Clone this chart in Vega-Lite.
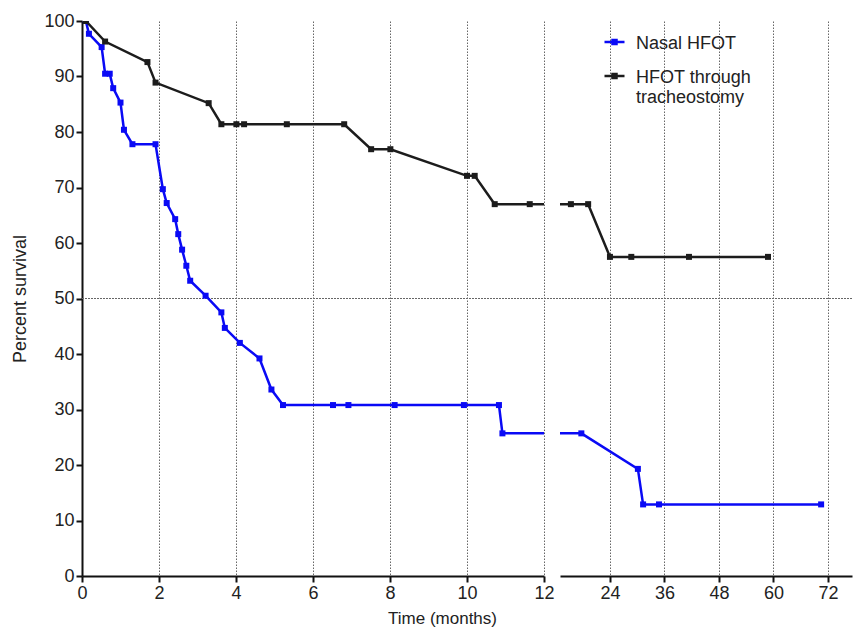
{
  "$schema": "https://vega.github.io/schema/vega-lite/v6.json",
  "padding": {"left": 11, "top": 12, "right": 0, "bottom": 4},
  "spacing": 16,
  "bounds": "flush",
  "config": {
    "view": {"stroke": null},
    "font": "Liberation Sans",
    "axis": {
      "domainColor": "#111", "domainWidth": 2, "tickColor": "#111", "tickWidth": 2, "tickSize": 6,
      "labelFontSize": 18, "labelColor": "#222", "labelPadding": 2, "labelFlush": false,
      "titleFontWeight": "normal", "titleColor": "#222",
      "gridDash": [1.5, 1.5], "gridColor": "#666", "gridWidth": 1
    }
  },
  "data": {"values": [
    {"group": "Nasal HFOT", "t": 0.1, "s": 100},
    {"group": "Nasal HFOT", "t": 0.18, "s": 97.7},
    {"group": "Nasal HFOT", "t": 0.51, "s": 95.3},
    {"group": "Nasal HFOT", "t": 0.6, "s": 90.5},
    {"group": "Nasal HFOT", "t": 0.72, "s": 90.5},
    {"group": "Nasal HFOT", "t": 0.81, "s": 87.9},
    {"group": "Nasal HFOT", "t": 1.0, "s": 85.3},
    {"group": "Nasal HFOT", "t": 1.09, "s": 80.4},
    {"group": "Nasal HFOT", "t": 1.31, "s": 77.8},
    {"group": "Nasal HFOT", "t": 1.91, "s": 77.8},
    {"group": "Nasal HFOT", "t": 2.1, "s": 69.7},
    {"group": "Nasal HFOT", "t": 2.2, "s": 67.2},
    {"group": "Nasal HFOT", "t": 2.42, "s": 64.3},
    {"group": "Nasal HFOT", "t": 2.5, "s": 61.6},
    {"group": "Nasal HFOT", "t": 2.6, "s": 58.8},
    {"group": "Nasal HFOT", "t": 2.71, "s": 55.9},
    {"group": "Nasal HFOT", "t": 2.81, "s": 53.2},
    {"group": "Nasal HFOT", "t": 3.21, "s": 50.5},
    {"group": "Nasal HFOT", "t": 3.62, "s": 47.5},
    {"group": "Nasal HFOT", "t": 3.71, "s": 44.7},
    {"group": "Nasal HFOT", "t": 4.1, "s": 42.0},
    {"group": "Nasal HFOT", "t": 4.61, "s": 39.2},
    {"group": "Nasal HFOT", "t": 4.92, "s": 33.6},
    {"group": "Nasal HFOT", "t": 5.22, "s": 30.8},
    {"group": "Nasal HFOT", "t": 6.52, "s": 30.8},
    {"group": "Nasal HFOT", "t": 6.92, "s": 30.8},
    {"group": "Nasal HFOT", "t": 8.12, "s": 30.8},
    {"group": "Nasal HFOT", "t": 9.92, "s": 30.8},
    {"group": "Nasal HFOT", "t": 10.83, "s": 30.8},
    {"group": "Nasal HFOT", "t": 10.92, "s": 25.7},
    {"group": "Nasal HFOT", "t": 17.7, "s": 25.7},
    {"group": "Nasal HFOT", "t": 30.15, "s": 19.3},
    {"group": "Nasal HFOT", "t": 31.3, "s": 12.9},
    {"group": "Nasal HFOT", "t": 34.8, "s": 12.9},
    {"group": "Nasal HFOT", "t": 70.5, "s": 12.9},
    {"group": "HFOT through tracheostomy", "t": 0.1, "s": 100},
    {"group": "HFOT through tracheostomy", "t": 0.6, "s": 96.3},
    {"group": "HFOT through tracheostomy", "t": 1.7, "s": 92.6},
    {"group": "HFOT through tracheostomy", "t": 1.91, "s": 88.9},
    {"group": "HFOT through tracheostomy", "t": 3.29, "s": 85.2},
    {"group": "HFOT through tracheostomy", "t": 3.62, "s": 81.4},
    {"group": "HFOT through tracheostomy", "t": 4.01, "s": 81.4},
    {"group": "HFOT through tracheostomy", "t": 4.21, "s": 81.4},
    {"group": "HFOT through tracheostomy", "t": 5.32, "s": 81.4},
    {"group": "HFOT through tracheostomy", "t": 6.81, "s": 81.4},
    {"group": "HFOT through tracheostomy", "t": 7.51, "s": 76.9},
    {"group": "HFOT through tracheostomy", "t": 8.01, "s": 76.9},
    {"group": "HFOT through tracheostomy", "t": 10.0, "s": 72.1},
    {"group": "HFOT through tracheostomy", "t": 10.2, "s": 72.1},
    {"group": "HFOT through tracheostomy", "t": 10.72, "s": 67.0},
    {"group": "HFOT through tracheostomy", "t": 11.63, "s": 67.0},
    {"group": "HFOT through tracheostomy", "t": 15.4, "s": 67.0},
    {"group": "HFOT through tracheostomy", "t": 19.2, "s": 67.0},
    {"group": "HFOT through tracheostomy", "t": 24.0, "s": 57.5},
    {"group": "HFOT through tracheostomy", "t": 28.7, "s": 57.5},
    {"group": "HFOT through tracheostomy", "t": 41.4, "s": 57.5},
    {"group": "HFOT through tracheostomy", "t": 58.8, "s": 57.5}
  ]},
  "hconcat": [
    {
      "width": 462,
      "height": 555,
      "layer": [
        {
          "mark": {"type": "rule", "strokeDash": [1.5, 1.5], "color": "#666", "strokeWidth": 1, "clip": false},
          "encoding": {
            "y": {"datum": 50, "type": "quantitative"},
            "x": {"datum": 0, "type": "quantitative"},
            "x2": {"datum": 12.45}
          }
        },
        {
          "mark": {"type": "line", "clip": true, "strokeWidth": 2.5},
          "encoding": {
            "x": {"field": "t", "type": "quantitative",
                  "scale": {"domain": [0, 12], "nice": false, "zero": false},
                  "axis": {"values": [0, 2, 4, 6, 8, 10, 12], "title": "Time (months)", "titleFontSize": 17,
                           "titleX": 360, "titleAlign": "center", "titlePadding": 8, "grid": true}},
            "y": {"field": "s", "type": "quantitative",
                  "scale": {"domain": [0, 100], "nice": false},
                  "axis": {"values": [0, 10, 20, 30, 40, 50, 60, 70, 80, 90, 100], "title": "Percent survival",
                           "titleFontSize": 18, "titlePadding": 14, "grid": false}},
            "color": {"field": "group", "type": "nominal",
                      "scale": {"domain": ["Nasal HFOT", "HFOT through tracheostomy"], "range": ["#0a0af5", "#1c1c1c"]}}
          }
        },
        {
          "mark": {"type": "point", "shape": "square", "filled": true, "size": 36, "opacity": 1, "clip": true},
          "encoding": {
            "x": {"field": "t", "type": "quantitative"},
            "y": {"field": "s", "type": "quantitative"},
            "color": {"field": "group", "type": "nominal"}
          }
        }
      ]
    },
    {
      "width": 292,
      "height": 555,
      "layer": [
        {
          "mark": {"type": "rule", "strokeDash": [1.5, 1.5], "color": "#666", "strokeWidth": 1},
          "encoding": {
            "y": {"datum": 50, "type": "quantitative", "axis": null}
          }
        },
        {
          "mark": {"type": "line", "clip": true, "strokeWidth": 2.5},
          "encoding": {
            "x": {"field": "t", "type": "quantitative",
                  "scale": {"domain": [13, 77.3], "nice": false, "zero": false},
                  "axis": {"values": [24, 36, 48, 60, 72], "title": null, "grid": true}},
            "y": {"field": "s", "type": "quantitative",
                  "scale": {"domain": [0, 100], "nice": false},
                  "axis": null},
            "color": {"field": "group", "type": "nominal",
                      "legend": {"orient": "none", "legendX": 521, "legendY": 16, "title": null,
                                 "labelFontSize": 18, "labelColor": "#222", "labelLimit": 0,
                                 "symbolType": "M-1,-0.64H1M-0.2,-0.84H0.2V-0.44H-0.2Z",
                                 "symbolSize": 400, "symbolStrokeWidth": 2.5, "labelOffset": 10,
                                 "rowPadding": 15, "labelBaseline": "alphabetic",
                                 "labelExpr": "datum.label == 'HFOT through tracheostomy' ? ['HFOT through', 'tracheostomy'] : datum.label"}}
          }
        },
        {
          "mark": {"type": "point", "shape": "square", "filled": true, "size": 36, "opacity": 1, "clip": true},
          "encoding": {
            "x": {"field": "t", "type": "quantitative"},
            "y": {"field": "s", "type": "quantitative", "axis": null},
            "color": {"field": "group", "type": "nominal"}
          }
        }
      ]
    }
  ]
}
